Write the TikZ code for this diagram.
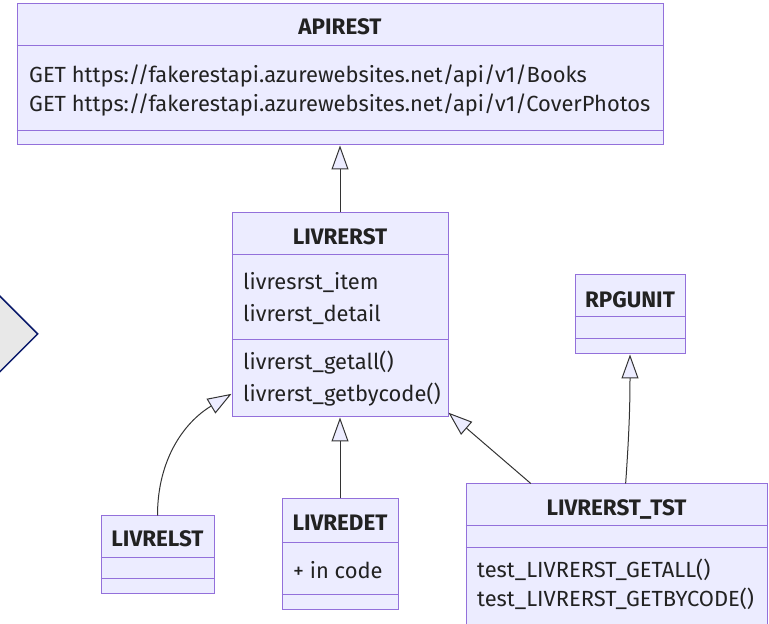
\documentclass[tikz,border=0pt]{standalone}
\usepackage{fontspec}
\setmainfont{Fira Sans}
\usetikzlibrary{shapes,arrows.meta,calc}

\definecolor{umlfill}{HTML}{ECECFF}
\definecolor{umlline}{HTML}{9370DB}
\definecolor{linkcol}{HTML}{333333}
\definecolor{txtcol}{HTML}{222222}
\definecolor{decofill}{HTML}{E8E8E8}
\definecolor{decoline}{HTML}{0B1A6B}

\begin{document}
\begin{tikzpicture}[x=1pt,y=1pt,
	cls/.style={rectangle, fill=umlfill, draw=umlline, line width=1pt, inner sep=0pt},
	clsname/.style={font=\fontsize{22.4}{26}\selectfont\bfseries, text=txtcol, anchor=base, inner sep=0pt},
	member/.style={font=\fontsize{21.9}{26}\selectfont, text=txtcol, anchor=base west, inner sep=0pt},
	divider/.style={draw=umlline, line width=1pt},
	inherit/.style={draw=linkcol, line width=1pt, -{Triangle[length=24pt,width=17pt,fill=umlfill,line width=1pt]}}]
		\useasboundingbox (0,0) rectangle (769,624);

		% boxes
		\path (-42, 290) node[diamond, fill=decofill, draw=decoline, line width=1.5pt, minimum width=160pt, minimum height=160pt, inner sep=0pt] (deco) {}
  		(340, 549.5) node[cls, minimum width=646pt, minimum height=141pt] (apirest) {}
  		(340, 309) node[cls, minimum width=216pt, minimum height=204pt] (livrerst) {}
  		(630, 309.5) node[cls, minimum width=110pt, minimum height=79pt] (rpgunit) {}
  		(616.5, 66) node[cls, minimum width=301pt, minimum height=148pt] (livrersttst) {}
  		(340, 69.5) node[cls, minimum width=116pt, minimum height=111pt] (livredet) {}
  		(157.5, 69) node[cls, minimum width=113pt, minimum height=78pt] (livrelst) {};

		% compartments
		\draw[divider] (apirest.west |- 0,578) -- (apirest.east |- 0,578);
		\draw[divider] (apirest.west |- 0,493) -- (apirest.east |- 0,493);
		\draw[divider] (livrerst.west |- 0,369) -- (livrerst.east |- 0,369);
		\draw[divider] (livrerst.west |- 0,284) -- (livrerst.east |- 0,284);
		\draw[divider] (rpgunit.west |- 0,307) -- (rpgunit.east |- 0,307);
		\draw[divider] (rpgunit.west |- 0,285) -- (rpgunit.east |- 0,285);
		\draw[divider] (livrersttst.west |- 0,98) -- (livrersttst.east |- 0,98);
		\draw[divider] (livrersttst.west |- 0,76) -- (livrersttst.east |- 0,76);
		\draw[divider] (livredet.west |- 0,81) -- (livredet.east |- 0,81);
		\draw[divider] (livredet.west |- 0,29) -- (livredet.east |- 0,29);
		\draw[divider] (livrelst.west |- 0,66) -- (livrelst.east |- 0,66);
		\draw[divider] (livrelst.west |- 0,45) -- (livrelst.east |- 0,45);

		% texts (baselines)
		\path (340, 589) node[clsname] (apiname) {APIREST}
  		(29, 541) node[member] (apiget1) {GET https://fakerestapi.azurewebsites.net/api/v1/Books}
  		(29, 512) node[member] (apiget2) {GET https://fakerestapi.azurewebsites.net/api/v1/CoverPhotos}
  		(340, 379) node[clsname] (rstname) {LIVRERST}
  		(243, 334) node[member] (rstitem) {livresrst\_item}
  		(243, 302) node[member] (rstdetail) {livrerst\_detail}
  		(243, 254) node[member] (rstgetall) {livrerst\_getall()}
  		(243, 222) node[member] (rstgetcode) {livrerst\_getbycode()}
  		(630, 316) node[clsname] (rpgname) {RPGUNIT}
  		(616.5, 108) node[clsname] (tstname) {LIVRERST\_TST}
  		(477, 46) node[member] (tstgetall) {test\_LIVRERST\_GETALL()}
  		(477, 17) node[member] (tstgetcode) {test\_LIVRERST\_GETBYCODE()}
  		(340, 93) node[clsname] (detname) {LIVREDET}
  		(293, 45) node[member] (detcode) {+ in code}
  		(157.5, 77) node[clsname] (lstname) {LIVRELST};

		% inheritance
		\draw[inherit] (livrerst.north) -- (apirest.south);
		\draw[inherit] (livredet.north) -- (livrerst.south);
		\draw[inherit] (livrelst.north) to[out=90, in=211] (livrerst.216.5);
		\draw[inherit] (livrersttst.139) -- (livrerst.-42);
		\draw[inherit] (livrersttst.83) to[out=86, in=-90] (rpgunit.south);
	\end{tikzpicture}
\end{document}
